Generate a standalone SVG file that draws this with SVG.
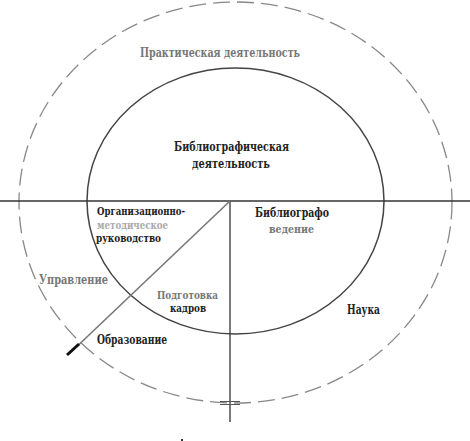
<svg xmlns="http://www.w3.org/2000/svg" width="470" height="441" viewBox="0 0 470 441">
<style>
text{font-family:'DejaVu Serif','Liberation Serif',serif;font-weight:bold;font-size:12px}
.s{font-size:10.5px}
.d{fill:#222}
.g{fill:#777}
.lg{fill:#aaa}
</style>
<rect width="470" height="441" fill="#fff"/>
<g id="outer">
<ellipse cx="235.5" cy="202.5" rx="216.5" ry="200.5" fill="none" stroke="#888" stroke-width="1.3" stroke-dasharray="17 7"/>
</g>
<g id="inner">
<ellipse cx="235.5" cy="201" rx="148.5" ry="133" fill="none" stroke="#444" stroke-width="1.5"/>
</g>
<g id="connectors" stroke-linecap="butt">
<line x1="0" y1="201" x2="470" y2="201" stroke="#333" stroke-width="1.3"/>
<line x1="230" y1="201" x2="230" y2="422" stroke="#333" stroke-width="1.3"/>
<line x1="230" y1="201" x2="69" y2="354" stroke="#777" stroke-width="1.6"/>
<line x1="67" y1="355" x2="79" y2="344" stroke="#111" stroke-width="3"/>
<line x1="220" y1="401.5" x2="240" y2="401.5" stroke="#555" stroke-width="1"/>
<line x1="220" y1="404.5" x2="240" y2="404.5" stroke="#555" stroke-width="1"/>
</g>
<g id="practical"><text class="g" x="140" y="57" textLength="160" lengthAdjust="spacingAndGlyphs">Практическая деятельность</text></g>
<g id="bibliographic">
<text class="d" x="174" y="151" textLength="115" lengthAdjust="spacingAndGlyphs">Библиографическая</text>
<text class="d" x="192" y="168" textLength="78" lengthAdjust="spacingAndGlyphs">деятельность</text>
</g>
<g id="org">
<text class="s d" x="97" y="215" textLength="88" lengthAdjust="spacingAndGlyphs">Организационно-</text>
<text class="s lg" x="97" y="229" textLength="71" lengthAdjust="spacingAndGlyphs">методическое</text>
<text class="s d" x="96" y="242" textLength="65" lengthAdjust="spacingAndGlyphs">руководство</text>
</g>
<g id="bibliography">
<text class="d" x="255" y="217" textLength="74" lengthAdjust="spacingAndGlyphs">Библиографо</text>
<text class="s g" x="269" y="233" textLength="45" lengthAdjust="spacingAndGlyphs">ведение</text>
</g>
<g id="management"><text class="g" x="39" y="284" textLength="69" lengthAdjust="spacingAndGlyphs">Управление</text></g>
<g id="training">
<text class="s g" x="157" y="299" textLength="61" lengthAdjust="spacingAndGlyphs">Подготовка</text>
<text class="s d" x="170" y="312" textLength="36" lengthAdjust="spacingAndGlyphs">кадров</text>
</g>
<g id="science"><text class="d" x="347" y="314" textLength="33" lengthAdjust="spacingAndGlyphs">Наука</text></g>
<g id="education"><text class="d" x="97" y="344" textLength="70" lengthAdjust="spacingAndGlyphs">Образование</text></g>
<rect x="181" y="439" width="2" height="2" fill="#333"/>
</svg>
